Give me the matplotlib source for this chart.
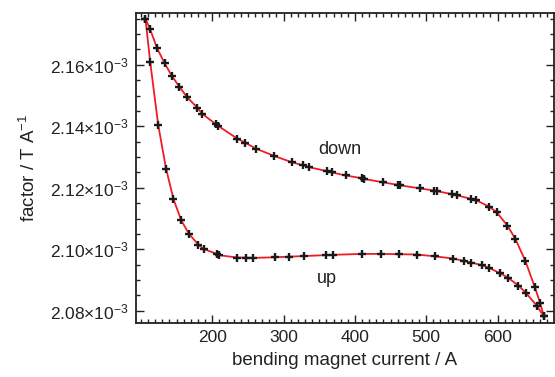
import numpy as np
import matplotlib
matplotlib.use("Agg")
import matplotlib.pyplot as plt
from matplotlib.ticker import MultipleLocator, FuncFormatter

plt.rcParams['font.family'] = ['Liberation Sans', 'DejaVu Sans']
plt.rcParams['mathtext.fontset'] = 'custom'
plt.rcParams['mathtext.rm'] = 'Liberation Sans'
plt.rcParams['mathtext.it'] = 'Liberation Sans'

# bending magnet current (A) and calibration factor (1e-3 T/A)
down_x = [106.3, 112.9, 122.8, 133.1, 143.6, 153.7, 164.6, 179.1, 185.8, 205.3,
          207.8, 235.0, 245.7, 261.7, 286.4, 311.6, 327.4, 335.9, 361.1, 367.9,
          387.0, 410.2, 412.3, 439.2, 460.6, 463.4, 491.3, 511.2, 515.4, 536.7,
          543.7, 562.8, 569.8, 587.9, 598.6, 613.9, 625.1, 639.0, 652.4, 659.7,
          664.9]
down_y = [2.1750, 2.1715, 2.1653, 2.1605, 2.1563, 2.1529, 2.1495, 2.1460, 2.1441, 2.1406,
          2.1402, 2.1360, 2.1347, 2.1327, 2.1304, 2.1283, 2.1273, 2.1267, 2.1254, 2.1250,
          2.1240, 2.1231, 2.1229, 2.1218, 2.1209, 2.1208, 2.1198, 2.1191, 2.1189, 2.1179,
          2.1175, 2.1164, 2.1160, 2.1139, 2.1121, 2.1077, 2.1033, 2.0962, 2.0876, 2.0826,
          2.0782]

up_x = [106.3, 112.9, 124.2, 135.2, 145.6, 156.5, 167.4, 180.6, 187.9, 206.3,
        209.2, 235.3, 246.8, 257.3, 287.8, 308.2, 328.6, 358.9, 369.5, 410.2,
        436.0, 461.3, 486.8, 512.2, 537.7, 553.3, 563.1, 578.5, 588.6, 603.6,
        614.4, 629.3, 639.9, 654.8, 664.9]
up_y = [2.1750, 2.1610, 2.1404, 2.1262, 2.1163, 2.1094, 2.1050, 2.1015, 2.1001, 2.0985,
        2.0981, 2.0973, 2.0973, 2.0972, 2.0974, 2.0976, 2.0978, 2.0981, 2.0982, 2.0985,
        2.0985, 2.0984, 2.0983, 2.0977, 2.0970, 2.0962, 2.0957, 2.0948, 2.0939, 2.0922,
        2.0908, 2.0882, 2.0858, 2.0817, 2.0782]

x_ticks = [200, 300, 400, 500, 600]
y_ticks = [2.08, 2.10, 2.12, 2.14, 2.16]


def main():
    fig = plt.figure(figsize=(5.55, 3.77), dpi=100)
    ax = fig.add_axes([0.245, 0.143, 0.753, 0.823])

    for xs, ys in ((down_x, down_y), (up_x, up_y)):
        ax.plot(xs, ys, color='#ee1c24', lw=1.3, zorder=2)
        ax.plot(xs, ys, ls='none', marker='+', ms=6, mew=1.7, color='#1a1a1a', zorder=3)

    ax.text(379, 2.1326, 'down', fontsize=13, ha='center', va='center', color='#222222')
    ax.text(361, 2.0905, 'up', fontsize=13, ha='center', va='center', color='#222222')

    ax.set_xlim(93, 679)
    ax.set_ylim(2.0760, 2.1769)
    ax.set_xticks(x_ticks)
    ax.set_yticks(y_ticks)
    ax.xaxis.set_minor_locator(MultipleLocator(10))
    ax.yaxis.set_minor_locator(MultipleLocator(0.005))
    ax.yaxis.set_major_formatter(FuncFormatter(lambda v, p: '%.2f$\\times$10$^{-3}$' % v))

    ax.tick_params(which='both', direction='in', top=True, right=True,
                   color='#222222', width=1.0, labelsize=12.5, labelcolor='#222222')
    ax.tick_params(which='major', length=6, pad=5)
    ax.tick_params(which='minor', length=3)
    for s in ax.spines.values():
        s.set_linewidth(1.3)
        s.set_color('#222222')

    ax.set_xlabel('bending magnet current / A', fontsize=13.5, color='#222222', labelpad=5)
    ax.set_ylabel('factor / T A$^{-1}$', fontsize=13.5, color='#222222', labelpad=8)

    fig.savefig('out.png', dpi=100)


if __name__ == "__main__":
    main()
